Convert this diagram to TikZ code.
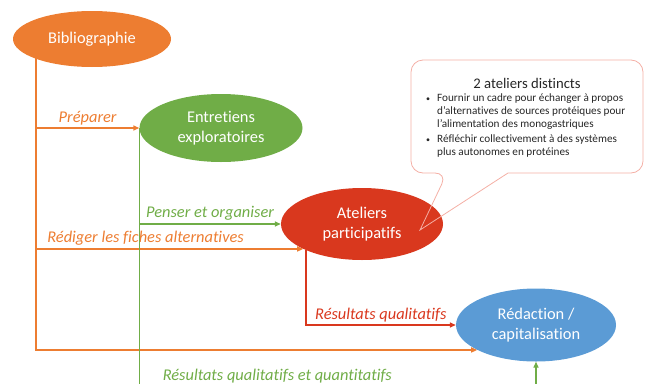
\documentclass[tikz,border=0pt]{standalone}
\usepackage{fontspec}
\setmainfont{Carlito}[RawFeature={-liga;-dlig;-clig}]
\usetikzlibrary{shapes.geometric,arrows.meta,backgrounds}
\definecolor{bibOrange}{HTML}{ED7D31}
\definecolor{entGreen}{HTML}{70AD47}
\definecolor{ateRed}{HTML}{D9381E}
\definecolor{redacBlue}{HTML}{5B9BD5}
\definecolor{bubbleLine}{HTML}{F4AFA5}
\newcommand{\bubbleItem}[1]{\makebox[11pt][l]{\fontsize{8}{8}\selectfont\textbullet}%
  \begin{tabular}[t]{@{}l@{}}#1\end{tabular}}
\begin{document}
\begin{tikzpicture}
[x=1pt,y=-1pt,
  nodeDecorate/.style={shape=ellipse,inner sep=0pt,align=center,text=white,
    font=\fontsize{16.4}{20}\selectfont},
  arrowDecorate/.style={-{Triangle[length=6pt,width=5pt]},line width=1.4pt},
  labelDecorate/.style={above,inner sep=2.5pt,font=\fontsize{16.4}{20}\selectfont\itshape},
  bubbleDecorate/.style={draw=bubbleLine,line width=0.8pt}]
\useasboundingbox (0,0) rectangle (647,383);
%% nodes or vertices
\foreach \nodename/\x/\y/\w/\h/\colour/\txt in {
  bib/92/39/158/56/bibOrange/{Bibliographie},
  ent/221/128/163/68/entGreen/{Entretiens\\exploratoires},
  ate/362/224/162/72/ateRed/{Ateliers\\participatifs},
  redac/536/325/160/73/redacBlue/{Rédaction /\\capitalisation}}
{
  \node (\nodename) at (\x,\y) [nodeDecorate,fill=\colour,
    minimum width=\w pt,minimum height=\h pt] {\txt};
}
%% speech bubble
\draw[bubbleDecorate] (527,60) [rounded corners=12pt] -- (411,60) -- (411,173)
  -- (447,173) [sharp corners] -- (420,230) -- (508,173)
  [rounded corners=12pt] -- (643,173) -- (643,60) -- cycle;
\node (bubbleTitle) [font=\fontsize{14.7}{17}\selectfont,text=black!85]
  at (527,83) {2 ateliers distincts};
\node (bubbleText) [anchor=north west,inner sep=0pt,align=left,
  text=black!85,font=\fontsize{11.2}{13.2}\selectfont] at (426,92) {%
  \bubbleItem{Fournir un cadre pour échanger à propos\\
    d'alternatives de sources protéiques pour\\
    l'alimentation des monogastriques}\\
  \bubbleItem{Réfléchir collectivement à des systèmes\\
    plus autonomes en protéines}};
%% edges or lines
\begin{scope}[on background layer]
\coordinate (trunk) at (36,39);
\coordinate (floor) at (140,386);
\draw[arrowDecorate,bibOrange] (trunk) |- (redac.203);
\draw[arrowDecorate,bibOrange] (trunk |- ent.west)
  -- node[labelDecorate] {Préparer} (ent.west);
\draw[arrowDecorate,bibOrange] (trunk |- ate.203)
  -- node[labelDecorate,pos=0.41] {Rédiger les fiches alternatives} (ate.203);
\draw[arrowDecorate,entGreen] (ent.west |- ate.west)
  -- node[labelDecorate] {Penser et organiser} (ate.west);
\draw[arrowDecorate,entGreen] (ent.west)
  |- node[labelDecorate,pos=0.674] {Résultats qualitatifs et quantitatifs} (floor -| redac.south)
  -- (redac.south);
\draw[arrowDecorate,ateRed] (ate.205)
  |- node[labelDecorate,pos=0.75] {Résultats qualitatifs} (redac.west);
\end{scope}
\end{tikzpicture}
\end{document}
